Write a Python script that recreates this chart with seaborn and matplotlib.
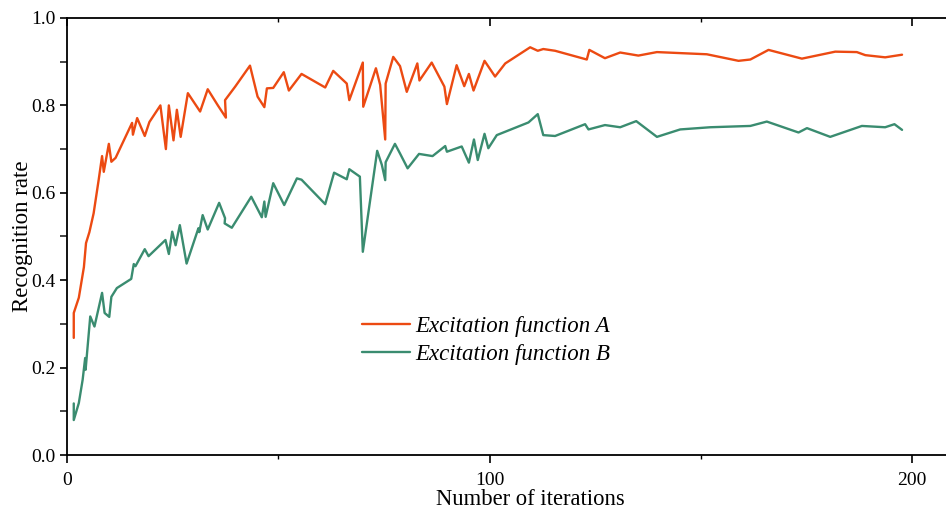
import numpy as np
import pandas as pd
import matplotlib
matplotlib.use("Agg")
import matplotlib.pyplot as plt
import seaborn as sns
from matplotlib.ticker import MultipleLocator

# ---- data ----
iter_a = [1.6, 1.6, 2.8, 4.0, 4.5, 5.3, 6.3, 7.5, 8.3, 8.7, 9.9, 10.5, 11.5, 15.4, 15.6, 16.6,
          18.4, 19.5, 22.1, 23.4, 24.1, 25.2, 26.0, 26.9, 28.6, 31.5, 33.3, 35.7, 37.6, 37.4,
          39.8, 43.3, 45.1, 46.7, 47.3, 48.8, 51.3, 52.5, 55.5, 61.1, 63.0, 66.2, 66.8, 70.0,
          70.1, 73.1, 74.1, 75.3, 75.4, 77.2, 78.8, 80.4, 82.9, 83.4, 86.3, 89.3, 89.9, 92.2,
          94.0, 95.1, 96.2, 98.8, 101.3, 103.7, 109.6, 111.4, 112.7, 115.5, 123.0, 123.6,
          127.3, 130.9, 135.2, 139.6, 151.4, 158.9, 161.7, 166.0, 173.9, 181.8, 186.9, 188.9,
          193.6, 197.6]
rate_a = [0.268, 0.325, 0.36, 0.43, 0.485, 0.51, 0.553, 0.63, 0.684, 0.648, 0.712, 0.671, 0.68,
          0.76, 0.733, 0.771, 0.73, 0.762, 0.80, 0.70, 0.80, 0.72, 0.79, 0.728, 0.828, 0.786,
          0.837, 0.80, 0.772, 0.812, 0.843, 0.891, 0.82, 0.796, 0.839, 0.84, 0.876, 0.834,
          0.872, 0.841, 0.879, 0.85, 0.812, 0.898, 0.797, 0.885, 0.847, 0.722, 0.85, 0.911,
          0.89, 0.831, 0.896, 0.857, 0.898, 0.843, 0.803, 0.892, 0.844, 0.872, 0.834, 0.902,
          0.866, 0.896, 0.933, 0.925, 0.929, 0.925, 0.905, 0.927, 0.908, 0.921, 0.914, 0.922,
          0.917, 0.902, 0.905, 0.927, 0.907, 0.923, 0.922, 0.915, 0.91, 0.916]

iter_b = [1.6, 1.6, 2.8, 3.7, 4.3, 4.4, 5.5, 6.5, 8.3, 8.9, 10.0, 10.5, 11.8, 15.2, 15.8, 16.2,
          18.4, 19.3, 23.3, 24.1, 24.9, 25.7, 26.7, 28.3, 31.1, 31.3, 32.1, 33.3, 36.0, 37.4,
          37.3, 39.0, 43.6, 46.1, 46.7, 47.0, 48.8, 51.4, 54.4, 55.5, 61.1, 63.2, 66.2, 66.8,
          69.3, 70.0, 73.4, 74.5, 75.3, 75.4, 77.6, 78.8, 80.6, 83.3, 86.5, 89.5, 89.9, 93.4,
          95.1, 96.3, 97.2, 98.8, 99.7, 101.7, 109.2, 111.4, 112.7, 115.5, 122.6, 123.4, 127.3,
          130.9, 134.7, 139.6, 145.1, 152.2, 161.7, 165.6, 173.1, 175.1, 180.6, 188.1, 193.6,
          195.8, 197.6]
rate_b = [0.118, 0.08, 0.119, 0.172, 0.222, 0.195, 0.317, 0.294, 0.371, 0.325, 0.316, 0.362,
          0.382, 0.403, 0.437, 0.432, 0.471, 0.455, 0.492, 0.46, 0.511, 0.48, 0.526, 0.438,
          0.519, 0.51, 0.549, 0.516, 0.577, 0.542, 0.53, 0.52, 0.591, 0.544, 0.58, 0.545,
          0.622, 0.572, 0.633, 0.63, 0.574, 0.646, 0.631, 0.654, 0.637, 0.465, 0.696, 0.664,
          0.629, 0.67, 0.712, 0.69, 0.656, 0.689, 0.684, 0.707, 0.694, 0.706, 0.669, 0.722,
          0.675, 0.735, 0.702, 0.732, 0.761, 0.78, 0.732, 0.73, 0.757, 0.745, 0.755, 0.75,
          0.764, 0.728, 0.745, 0.75, 0.753, 0.763, 0.738, 0.748, 0.728, 0.753, 0.75, 0.757,
          0.744]

label_a = "Excitation function A"
label_b = "Excitation function B"
x_ticks = [0, 100, 200]
y_ticks = [0.0, 0.2, 0.4, 0.6, 0.8, 1.0]

df = pd.concat([
    pd.DataFrame({"iter": iter_a, "rate": rate_a, "series": label_a}),
    pd.DataFrame({"iter": iter_b, "rate": rate_b, "series": label_b}),
], ignore_index=True)

sns.set_theme(style="white")
plt.rcParams["font.family"] = ["Liberation Serif", "DejaVu Serif"]
plt.rcParams["text.color"] = "black"

fig = plt.figure(figsize=(9.46, 5.11), dpi=100)
ax = fig.add_axes([67 / 946, 56 / 511, 879 / 946, 437 / 511])

sns.lineplot(data=df, x="iter", y="rate", hue="series", sort=False, estimator=None,
             palette={label_a: "#EC4A12", label_b: "#3A8C70"}, linewidth=1.7, ax=ax)

ax.set_xlim(0, 208)
ax.set_ylim(0, 1.0)
ax.set_xticks(x_ticks)
ax.set_xticklabels([str(t) for t in x_ticks])
ax.xaxis.set_minor_locator(MultipleLocator(50))
ax.set_yticks(y_ticks)
ax.set_yticklabels([f"{t:.1f}" for t in y_ticks])
ax.yaxis.set_minor_locator(MultipleLocator(0.1))

for side in ["left", "bottom", "top"]:
    ax.spines[side].set_visible(True)
    ax.spines[side].set_color("black")
    ax.spines[side].set_linewidth(1.3)
ax.spines["right"].set_visible(False)

ax.tick_params(axis="x", which="major", direction="out", length=6, width=1.2, bottom=True,
               top=True, labelsize=14, colors="black", pad=6)
ax.tick_params(axis="x", which="minor", direction="out", length=3, width=1.0, bottom=True,
               top=True, colors="black")
ax.tick_params(axis="y", which="major", direction="out", length=5, width=1.2, left=True,
               labelsize=14, colors="black", pad=3)
ax.tick_params(axis="y", which="minor", direction="out", length=5, width=1.2, left=True)

# top ticks point inward
for t in ax.xaxis.get_major_ticks() + ax.xaxis.get_minor_ticks():
    t.tick2line.set_marker(matplotlib.lines.TICKDOWN)

ax.set_xlabel("Number of iterations", fontsize=16.3, color="black")
ax.xaxis.set_label_coords(0.527, -0.078)
ax.set_ylabel("Recognition rate", fontsize=16.5, color="black")
ax.yaxis.set_label_coords(-0.039, 0.5)

leg = ax.legend(loc="upper left", bbox_to_anchor=(0.336, 0.318), frameon=False,
                borderaxespad=0, borderpad=0, handlelength=2.1, handletextpad=0.2,
                labelspacing=0.3, labelcolor="black",
                prop={"family": "Liberation Serif", "style": "italic", "size": 16.5})

fig.savefig("out.png", dpi=100)
